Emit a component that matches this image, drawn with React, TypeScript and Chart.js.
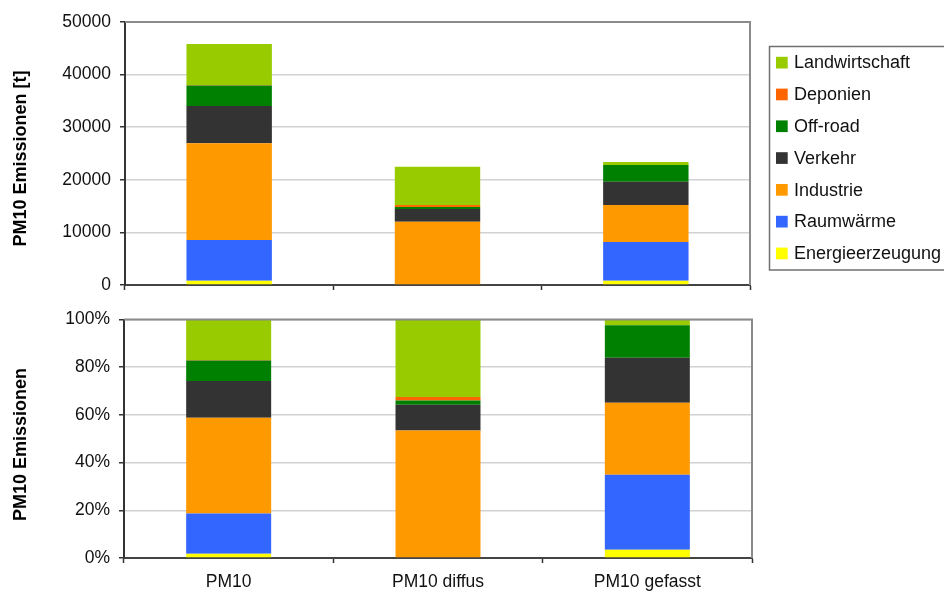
import React, { useEffect, useRef } from "react";
import { Chart, registerables } from "chart.js";

Chart.register(...registerables);

// ---- data ----
const categories = ["PM10", "PM10 diffus", "PM10 gefasst"];
const energieerzeugung = [820, 0, 820];
const raumwaerme = [7730, 0, 7350];
const industrie = [18400, 12030, 7040];
const verkehr = [7080, 2420, 4430];
const offroad = [3900, 400, 3170];
const deponien = [100, 350, 0];
const landwirtschaft = [7800, 7300, 570];

const seriesNames = [
  "Energieerzeugung",
  "Raumwärme",
  "Industrie",
  "Verkehr",
  "Off-road",
  "Deponien",
  "Landwirtschaft",
];
const seriesValues = [energieerzeugung, raumwaerme, industrie, verkehr, offroad, deponien, landwirtschaft];
const seriesColors = ["#FFFF00", "#3366FF", "#FF9900", "#333333", "#008000", "#FF6600", "#99CC00"];

const absTitle = "PM10 Emissionen [t]";
const pctTitle = "PM10 Emissionen";
const absMax = 50000;
const absStep = 10000;
const pctMax = 100;
const pctStep = 20;

const FONT = "'Liberation Sans', Arial, Helvetica, sans-serif";

const totals = categories.map((_, i) => seriesValues.reduce((s, arr) => s + arr[i], 0));
const pctValues = seriesValues.map((arr) => arr.map((v, i) => (v / totals[i]) * 100));

const framePlugin = {
  id: "frame",
  afterDraw(chart: any, _args: any, opts: any) {
    const { ctx, chartArea: a } = chart;
    ctx.save();
    ctx.strokeStyle = "#8a8a8a";
    ctx.lineWidth = 2;
    ctx.beginPath();
    ctx.moveTo(a.left, a.top);
    ctx.lineTo(a.right, a.top);
    ctx.lineTo(a.right, a.bottom);
    ctx.stroke();
    ctx.restore();

    ctx.save();
    ctx.fillStyle = "#000";
    ctx.font = `bold 18px ${FONT}`;
    ctx.translate(opts.titleX, opts.titleY);
    ctx.rotate(-Math.PI / 2);
    ctx.textAlign = "center";
    ctx.textBaseline = "middle";
    ctx.fillText(opts.title, 0, 0);
    ctx.restore();

    if (opts.legend) {
      ctx.save();
      ctx.strokeStyle = "#707070";
      ctx.lineWidth = 1.5;
      ctx.strokeRect(769.5, 46.5, 220, 223.5);
      const ds = chart.data.datasets.slice().reverse();
      ctx.font = `18px ${FONT}`;
      ctx.textAlign = "left";
      ctx.textBaseline = "alphabetic";
      ds.forEach((d: any, i: number) => {
        const base = 68.3 + i * 31.8;
        ctx.fillStyle = d.backgroundColor;
        ctx.fillRect(776, base - 11.5, 11.7, 11.7);
        ctx.fillStyle = "#111";
        ctx.fillText(d.label, 794, base);
      });
      ctx.restore();
    }
  },
};

function makeConfig(kind: "abs" | "pct"): any {
  const isAbs = kind === "abs";
  const data = isAbs ? seriesValues : pctValues;
  return {
    type: "bar",
    data: {
      labels: categories,
      datasets: seriesNames.map((name, k) => ({
        label: name,
        data: data[k],
        backgroundColor: seriesColors[k],
        borderWidth: 0,
        barPercentage: isAbs ? 0.41 : 0.406,
        categoryPercentage: 1,
      })),
    },
    plugins: [framePlugin],
    options: {
      responsive: false,
      animation: false,
      layout: {
        padding: isAbs
          ? { left: 0, top: 22, right: 944 - 750, bottom: 0 }
          : { left: 0, top: 19, right: 944 - 752, bottom: 0 },
      },
      plugins: {
        legend: { display: false },
        tooltip: { enabled: false },
        frame: isAbs
          ? { title: absTitle, titleX: 21, titleY: 158.5, legend: true }
          : { title: pctTitle, titleX: 21, titleY: 144.5, legend: false },
      },
      scales: {
        x: {
          stacked: true,
          z: 1,
          grid: {
            display: true,
            offset: true,
            drawOnChartArea: false,
            drawTicks: true,
            tickLength: 5,
            tickColor: "#333",
            tickWidth: 1.5,
          },
          border: { display: true, color: "#444", width: 2 },
          ticks: {
            display: !isAbs,
            color: "#111",
            font: { family: FONT, size: 17.5 },
            padding: 9,
            maxRotation: 0,
          },
          afterFit(scale: any) {
            scale.height = isAbs ? 20 : 37;
          },
        },
        y: {
          stacked: true,
          min: 0,
          max: isAbs ? absMax : pctMax,
          grid: {
            color: "#d2d2d2",
            lineWidth: 1.5,
            drawTicks: true,
            tickLength: 5,
            tickColor: "#333",
            tickWidth: 1.5,
          },
          border: { display: true, color: "#333", width: 2 },
          ticks: {
            stepSize: isAbs ? absStep : pctStep,
            color: "#111",
            font: { family: FONT, size: 17.5 },
            padding: 9,
            callback: (v: any) => (isAbs ? String(v) : `${v}%`),
          },
          afterFit(scale: any) {
            scale.width = isAbs ? 125 : 124;
          },
        },
      },
    },
  };
}

export default function App() {
  const topRef = useRef<HTMLCanvasElement | null>(null);
  const botRef = useRef<HTMLCanvasElement | null>(null);

  useEffect(() => {
    const c1 = new Chart(topRef.current as HTMLCanvasElement, makeConfig("abs"));
    const c2 = new Chart(botRef.current as HTMLCanvasElement, makeConfig("pct"));
    return () => {
      c1.destroy();
      c2.destroy();
    };
  }, []);

  return (
    <div style={{ position: "absolute", left: 0, top: 0, width: 944, height: 595, background: "#fff", overflow: "hidden" }}>
      <canvas
        ref={topRef}
        width={944}
        height={305}
        style={{ position: "absolute", left: 0, top: 0, width: 944, height: 305 }}
      />
      <canvas
        ref={botRef}
        width={944}
        height={295}
        style={{ position: "absolute", left: 0, top: 300, width: 944, height: 295 }}
      />
    </div>
  );
}
